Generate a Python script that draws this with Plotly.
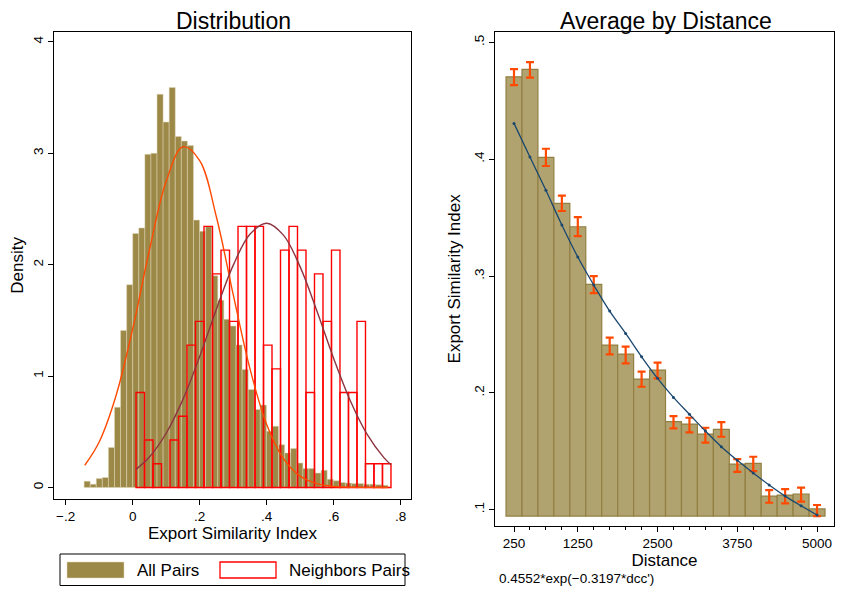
import plotly.graph_objects as go

# ---- datos: panel izquierdo (histogramas de densidad) ----
all_start = -0.145
all_width = 0.01814
all_density = [0.057, 0.03, 0.08, 0.09, 0.36, 0.72, 1.41, 1.82, 2.28, 2.33,
               2.99, 3.00, 3.53, 3.28, 3.59, 3.15, 3.11, 3.07, 2.40, 2.30,
               2.34, 1.90, 1.68, 1.51, 1.45, 1.28, 1.06, 0.88, 0.70, 0.74,
               0.505, 0.55, 0.385, 0.31, 0.35, 0.22, 0.17, 0.17, 0.13, 0.155,
               0.075, 0.06, 0.045, 0.04, 0.035, 0.035, 0.03, 0.03, 0.025, 0.02]

nb_start = 0.010
nb_width = 0.02537
nb_counts = [4, 2, 1, 0, 2, 3, 6, 7, 11, 9,
             10, 7, 11, 11, 11, 6, 5, 10, 11, 10,
             4, 9, 7, 10, 4, 4, 7, 1, 1, 1]

# curvas normales
all_curve_x = [-0.143, -0.10, -0.05, 0.00, 0.05, 0.10, 0.15, 0.20, 0.25, 0.30,
               0.35, 0.40, 0.45, 0.50, 0.55, 0.60, 0.65, 0.70, 0.762]
all_curve_y = [0.200, 0.409, 0.822, 1.425, 2.131, 2.749, 3.058, 2.934, 2.428, 1.733,
               1.067, 0.566, 0.259, 0.102, 0.035, 0.010, 0.003, 0.001, 0.000]
nb_curve_x = [0.010, 0.05, 0.10, 0.15, 0.20, 0.25, 0.30, 0.35, 0.40, 0.45,
              0.50, 0.55, 0.60, 0.65, 0.70, 0.75, 0.771]
nb_curve_y = [0.163, 0.274, 0.487, 0.791, 1.176, 1.601, 1.994, 2.273, 2.372, 2.265,
              1.980, 1.584, 1.159, 0.777, 0.477, 0.268, 0.205]

# ---- datos: panel derecho (promedio por distancia) ----
distance = [250, 500, 750, 1000, 1250, 1500, 1750, 2000, 2250, 2500,
            2750, 3000, 3250, 3500, 3750, 4000, 4250, 4500, 4750, 5000]
avg_esi = [0.4706, 0.4770, 0.4016, 0.3622, 0.3422, 0.2929, 0.2409, 0.2332, 0.2118, 0.2195,
           0.1753, 0.1733, 0.1647, 0.1687, 0.1390, 0.1396, 0.1116, 0.1125, 0.1134, 0.1006]
ci_hi = [0.4772, 0.4832, 0.4090, 0.3688, 0.3505, 0.3000, 0.2472, 0.2395, 0.2181, 0.2258,
         0.1801, 0.1787, 0.1701, 0.1750, 0.1433, 0.1453, 0.1168, 0.1176, 0.1188, 0.1040]
ci_lo = [0.4635, 0.4698, 0.3942, 0.3557, 0.3342, 0.2854, 0.2330, 0.2252, 0.2052, 0.2124,
         0.1696, 0.1662, 0.1573, 0.1624, 0.1324, 0.1330, 0.1059, 0.1054, 0.1068, 0.0945]
fit_esi = [0.4307, 0.4019, 0.3734, 0.3437, 0.3163, 0.2923, 0.2700, 0.2509, 0.2309, 0.2124,
           0.1961, 0.1816, 0.1673, 0.1539, 0.1422, 0.1313, 0.1211, 0.1116, 0.1033, 0.0954]
bar_base = 0.0945

major_ticks = [250, 1250, 2500, 3750, 5000]
fit_label = "0.4552*exp(\u22120.3197*dcc')"

# la pagina tiene 8px de margen en el body: la figura ocupa 827x578 desde (8, 8)
PAGE_W, PAGE_H, OFF = 843, 594, 8
W, H = PAGE_W - 2 * OFF, PAGE_H - 2 * OFF
FONT = "Liberation Sans, Arial, sans-serif"
BROWN = "#9c8847"
BROWN_R = "#b1a36f"
RED = "#ff0000"
ORANGE = "#ff4a00"
CRANB = "#8c3440"
NAVY = "#1a476f"


# posiciones en pixeles de la pagina -> fraccion del papel
def fx(p):
    return (p - OFF) / W


def fy(p):
    return 1 - (p - OFF) / H


nb_total = sum(nb_counts)
all_x = [all_start + all_width * (i + 0.5) for i in range(len(all_density))]
nb_x = [nb_start + nb_width * (i + 0.5) for i in range(len(nb_counts))]
nb_density = [c / (nb_total * nb_width) for c in nb_counts]

fig = go.Figure()

fig.add_trace(go.Bar(x=all_x, y=all_density, width=all_width, name='All Pairs',
                     marker=dict(color=BROWN, line=dict(color='#e0d8b8', width=0.5)),
                     xaxis='x', yaxis='y'))
fig.add_trace(go.Bar(x=nb_x, y=nb_density, width=nb_width, name='Neighbors Pairs',
                     marker=dict(color='rgba(0,0,0,0)', line=dict(color=RED, width=1.4)),
                     xaxis='x', yaxis='y'))
fig.add_trace(go.Scatter(x=all_curve_x, y=all_curve_y, mode='lines', line_shape='spline',
                         line=dict(color=ORANGE, width=1.4), xaxis='x', yaxis='y'))
fig.add_trace(go.Scatter(x=nb_curve_x, y=nb_curve_y, mode='lines', line_shape='spline',
                         line=dict(color=CRANB, width=1.4), xaxis='x', yaxis='y'))

# panel derecho
fig.add_trace(go.Bar(x=distance, y=[v - bar_base for v in avg_esi], base=bar_base, width=250,
                     marker=dict(color=BROWN_R, line=dict(color='#927f42', width=1.2)),
                     xaxis='x2', yaxis='y2'))
fig.add_trace(go.Scatter(x=distance, y=ci_lo, mode='markers', marker=dict(size=1, color=ORANGE, opacity=0),
                         error_y=dict(type='data', symmetric=False,
                                      array=[h - l for h, l in zip(ci_hi, ci_lo)],
                                      arrayminus=[0] * len(ci_lo),
                                      color=ORANGE, thickness=2.2, width=4),
                         xaxis='x2', yaxis='y2'))
fig.add_trace(go.Scatter(x=distance, y=fit_esi, mode='lines+markers', line_shape='spline',
                         line=dict(color=NAVY, width=1.3), marker=dict(size=3, color=NAVY),
                         xaxis='x2', yaxis='y2'))

axis_common = dict(showgrid=False, zeroline=False, showline=True, mirror=True,
                   linecolor='black', linewidth=1, ticks='outside', ticklen=5,
                   tickcolor='black', tickfont=dict(size=13.5, color='black'))

fig.update_layout(
    width=W, height=H, margin=dict(l=0, r=0, t=0, b=0),
    paper_bgcolor='white', plot_bgcolor='white', showlegend=False,
    barmode='overlay', font=dict(family=FONT, color='black'),
    xaxis=dict(domain=[fx(54.3), fx(410.7)], range=[-0.234, 0.830], anchor='y',
               tickvals=[-0.2, 0, 0.2, 0.4, 0.6, 0.8],
               ticktext=['\u2212.2', '0', '.2', '.4', '.6', '.8'],
               title=dict(text='Export Similarity Index', font=dict(size=17), standoff=2),
               **axis_common),
    yaxis=dict(domain=[fy(499), fy(31.7)], range=[-0.103, 4.091], anchor='x',
               tickvals=[0, 1, 2, 3, 4], tickangle=-90,
               title=dict(text='Density', font=dict(size=17), standoff=6),
               **axis_common),
    xaxis2=dict(domain=[fx(495), fx(834)], range=[-48, 5266], anchor='y2',
                tickvals=major_ticks, ticklabeloverflow='allow',
                minor=dict(tickmode='array',
                           tickvals=[d for d in distance if d not in major_ticks],
                           ticks='outside', ticklen=3, tickcolor='black'),
                title=dict(text='Distance', font=dict(size=17), standoff=0),
                **axis_common),
    yaxis2=dict(domain=[fy(526), fy(31.7)], range=[0.086, 0.5092], anchor='x2',
                tickvals=[0.1, 0.2, 0.3, 0.4, 0.5],
                ticktext=['.1', '.2', '.3', '.4', '.5'], tickangle=-90,
                title=dict(text='Export Similarity Index', font=dict(size=17), standoff=6),
                **axis_common),
)

# titulos de los paneles
fig.add_annotation(text='Distribution', x=fx(233), y=fy(20.5), xref='paper', yref='paper',
                   showarrow=False, font=dict(size=23), xanchor='center', yanchor='middle')
fig.add_annotation(text='Average by Distance', x=fx(666), y=fy(20.5), xref='paper', yref='paper',
                   showarrow=False, font=dict(size=23), xanchor='center', yanchor='middle')
fig.add_annotation(text=fit_label, x=fx(497), y=fy(578), xref='paper', yref='paper',
                   showarrow=False, font=dict(size=13.5), xanchor='left', yanchor='middle')

# leyenda dibujada a mano (muestras grandes como en Stata)
fig.add_shape(type='rect', xref='paper', yref='paper', x0=fx(60), x1=fx(405), y0=fy(585.5), y1=fy(554),
              line=dict(color='black', width=1), fillcolor='white', layer='above')
fig.add_shape(type='rect', xref='paper', yref='paper', x0=fx(67), x1=fx(124), y0=fy(578), y1=fy(562),
              line=dict(color='#e0d8b8', width=0.5), fillcolor=BROWN, layer='above')
fig.add_shape(type='rect', xref='paper', yref='paper', x0=fx(220), x1=fx(276), y0=fy(578), y1=fy(562),
              line=dict(color=RED, width=1.3), fillcolor='white', layer='above')
fig.add_annotation(text='All Pairs', x=fx(135), y=fy(570), xref='paper', yref='paper',
                   showarrow=False, font=dict(size=17), xanchor='left', yanchor='middle')
fig.add_annotation(text='Neighbors Pairs', x=fx(287), y=fy(570), xref='paper', yref='paper',
                   showarrow=False, font=dict(size=17), xanchor='left', yanchor='middle')

fig.write_html("out.html")
